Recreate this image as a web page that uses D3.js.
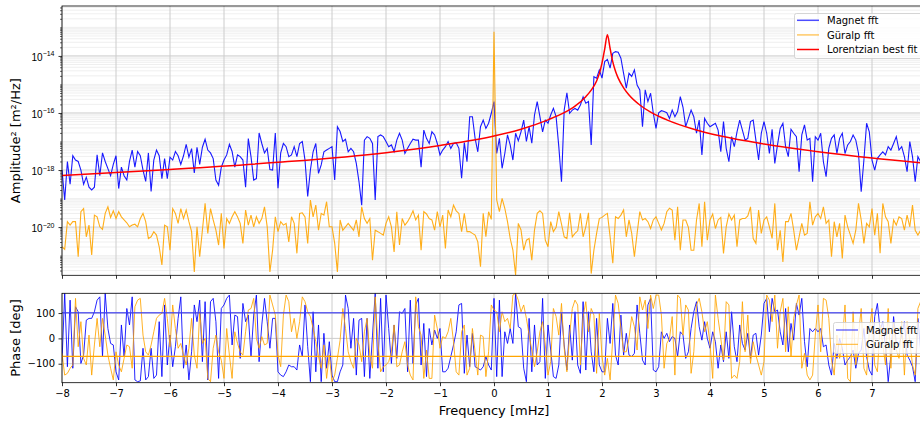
<!DOCTYPE html>
<html>
<head>
<meta charset="utf-8">
<script src="https://cdn.jsdelivr.net/npm/d3@7"></script>
<style>
body { margin: 0; background: #fff; }
svg { display: block; font-family: "DejaVu Sans", sans-serif; }
</style>
</head>
<body>
<div id="chart"></div>
<script>
// frequency bins [mHz]
var freqStart = -8;
var freqStep = 0.05;

// log10 of amplitude^2 [m^2/Hz]
var magnetAmpLog = [
-18.0,-19.05,-17.7,-18.5,-17.5,-17.65,-17.7,-18.0,-18.5,-18.25,
-18.6,-18.7,-18.6,-17.47,-18.2,-17.4,-17.7,-17.95,-18.2,-17.8,
-17.5,-18.65,-17.9,-18.2,-18.35,-17.7,-17.3,-17.9,-17.35,-17.5,
-18.0,-18.4,-17.4,-18.75,-17.65,-17.3,-17.5,-18.3,-17.6,-18.3,
-17.55,-17.65,-17.35,-17.5,-17.8,-17.5,-17.1,-17.55,-17.25,-18.1,
-17.2,-17.8,-17.2,-16.92,-17.3,-17.4,-17.6,-18.35,-18.53,-17.9,
-17.65,-17.47,-17.1,-17.35,-17.9,-17.47,-17.53,-17.65,-18.6,-16.9,
-17.53,-18.35,-18.3,-16.7,-17.07,-17.4,-17.24,-17.98,-18.0,-16.7,
-18.64,-17.4,-17.07,-17.18,-17.53,-17.47,-17.18,-17.53,-17.07,-17.0,
-17.65,-18.93,-18.0,-17.36,-17.07,-18.12,-17.82,-17.36,-17.3,-17.24,
-17.18,-18.35,-16.48,-16.65,-17.0,-16.92,-17.36,-17.24,-17.36,-17.77,
-18.41,-19.23,-16.95,-16.83,-16.89,-17.07,-19.05,-16.83,-16.77,-16.83,
-17.0,-17.18,-17.12,-17.36,-16.95,-16.71,-16.95,-17.42,-17.24,-17.07,
-16.92,-16.95,-16.95,-17.9,-16.6,-16.89,-17.07,-16.66,-16.77,-17.07,
-17.47,-17.3,-17.18,-17.0,-17.24,-17.07,-17.04,-17.24,-18.29,-17.04,
-17.71,-16.13,-16.13,-16.89,-17.36,-16.48,-16.25,-16.54,-16.36,-16.01,
-15.6,-17.42,-16.89,-17.94,-17.42,-16.77,-17.12,-17.65,-16.71,-16.97,
-16.66,-16.25,-17.0,-16.48,-17.06,-16.07,-15.6,-16.13,-16.66,-16.25,
-16.36,-16.07,-15.84,-16.13,-17.18,-18.41,-15.9,-15.29,-16.01,-15.9,
-15.84,-15.9,-15.72,-15.43,-15.66,-15.6,-17.12,-14.73,-14.78,-14.49,
-14.78,-14.2,-14.12,-14.43,-13.91,-13.85,-13.87,-14.08,-14.61,-15.13,
-14.61,-14.72,-14.49,-15.02,-15.19,-16.48,-15.19,-15.6,-15.31,-16.01,
-16.54,-15.99,-15.92,-15.95,-15.99,-16.19,-15.9,-16.13,-15.95,-15.43,
-15.8,-16.48,-16.19,-15.9,-16.13,-16.71,-16.25,-17.47,-16.19,-16.36,
-16.48,-16.42,-16.36,-16.6,-17.36,-16.3,-17.24,-17.71,-16.83,-17.18,
-16.66,-16.25,-16.6,-16.95,-16.89,-16.3,-16.25,-16.95,-17.65,-16.71,
-16.3,-16.71,-17.42,-16.57,-17.77,-17.12,-16.54,-16.36,-17.18,-17.53,
-16.57,-16.71,-16.83,-18.06,-16.77,-16.42,-16.95,-16.89,-18.41,-16.83,
-16.95,-16.71,-17.71,-18.23,-17.24,-16.89,-16.77,-17.42,-16.89,-16.71,
-17.42,-17.12,-17.0,-16.77,-16.95,-17.42,-18.76,-17.65,-16.36,-16.66,
-17.65,-18.0,-17.59,-17.47,-17.36,-17.47,-17.18,-17.3,-17.07,-16.83,
-17.3,-17.18,-17.53,-18.06,-17.0,-17.53,-18.41,-17.53,-17.71,-17.6
];

var guralpAmpLog = [
-20.69,-20.78,-19.81,-19.93,-19.81,-19.81,-21.04,-19.46,-19.35,-20.34,
-19.93,-20.98,-19.58,-19.64,-19.99,-20.08,-19.52,-19.29,-19.66,-19.43,
-19.7,-19.46,-19.64,-19.75,-19.85,-19.99,-19.93,-19.9,-19.99,-19.7,
-19.52,-19.81,-20.4,-20.34,-20.16,-20.28,-20.69,-21.33,-19.93,-19.99,
-20.81,-19.35,-19.52,-19.87,-19.35,-19.7,-19.4,-19.81,-20.16,-21.57,
-19.99,-21.04,-20.11,-19.17,-20.22,-19.35,-19.75,-20.11,-20.63,-19.52,
-20.75,-19.7,-19.87,-19.64,-19.46,-19.64,-19.87,-20.57,-19.4,-19.93,
-19.58,-19.99,-19.64,-19.87,-19.7,-19.29,-19.99,-21.57,-20.81,-19.64,
-20.16,-19.81,-19.93,-19.87,-20.52,-19.64,-19.87,-20.92,-19.52,-19.5,
-19.64,-20.57,-19.05,-19.64,-19.23,-20.11,-19.52,-19.58,-19.11,-19.99,
-19.99,-20.57,-21.57,-19.75,-20.11,-19.99,-19.87,-19.99,-20.11,-19.75,
-20.34,-19.29,-19.7,-19.87,-19.7,-21.16,-20.11,-20.16,-20.22,-20.28,
-19.87,-19.64,-19.99,-20.87,-19.46,-20.63,-19.7,-19.93,-19.81,-19.64,
-19.43,-19.75,-19.58,-20.81,-19.46,-19.54,-19.7,-19.75,-20.11,-19.46,
-19.99,-19.58,-20.75,-19.4,-19.64,-19.23,-19.43,-19.52,-20.16,-19.52,
-20.16,-20.16,-20.22,-20.28,-20.52,-21.39,-19.52,-20.34,-19.46,-19.73,
-13.15,-19.05,-19.46,-18.99,-19.34,-19.81,-20.4,-20.81,-21.68,-19.87,
-20.1,-20.81,-20.46,-20.4,-21.16,-20.1,-19.52,-19.43,-19.52,-20.46,
-20.69,-19.81,-20.16,-20.01,-19.46,-19.9,-20.34,-20.4,-19.5,-20.34,
-20.22,-20.13,-19.52,-20.34,-19.99,-19.5,-21.63,-20.81,-20.22,-19.7,
-19.66,-19.58,-19.52,-20.34,-21.27,-19.64,-19.7,-19.58,-19.4,-20.34,
-19.75,-20.22,-21.04,-20.22,-19.46,-19.75,-19.7,-19.81,-20.05,-19.75,
-19.64,-19.87,-20.1,-19.87,-19.46,-19.34,-19.4,-20.46,-19.29,-20.81,
-19.75,-19.75,-20.01,-20.81,-20.81,-19.75,-19.17,-20.69,-19.11,-20.46,
-19.75,-19.54,-20.05,-19.75,-19.66,-20.92,-19.99,-19.54,-19.75,-19.58,
-20.69,-19.75,-19.7,-19.7,-19.61,-19.29,-20.4,-20.57,-19.4,-20.22,
-19.75,-19.64,-19.99,-20.4,-19.17,-20.81,-20.11,-21.22,-19.81,-19.81,
-19.52,-20.11,-20.81,-20.34,-19.87,-20.28,-20.22,-19.11,-19.93,-19.64,
-19.52,-19.7,-19.29,-19.87,-19.75,-21.04,-19.81,-20.34,-19.87,-21.1,
-19.58,-19.99,-20.28,-20.57,-20.11,-19.17,-19.75,-20.57,-19.87,-19.99,
-19.35,-20.28,-19.52,-20.92,-19.17,-19.64,-19.81,-20.57,-19.75,-19.93,
-19.64,-19.7,-20.11,-19.58,-19.99,-19.23,-20.11,-20.28,-20.11,-19.9
];

// Lorentzian best fit
var fitFreq = [-8,-6,-4,-2,-1,0,0.5,1,1.3,1.5,1.7,1.8,1.9,1.95,2.0,2.05,2.1,2.15,2.2,2.25,2.3,2.4,2.5,2.7,2.9,3.2,3.7,4.2,5,6,7,8];
var fitAmpLog = [-18.19,-17.98,-17.73,-17.39,-17.14,-16.81,-16.57,-16.24,-15.99,-15.76,-15.43,-15.2,-14.88,-14.62,-14.25,-13.76,-13.26,-13.74,-14.21,-14.54,-14.78,-15.12,-15.37,-15.72,-15.97,-16.24,-16.57,-16.81,-17.09,-17.36,-17.58,-17.76];

// phase [deg]
var magnetPhase = [
-92,178,-112,151,-118,125,105,-99,-66,72,
79,79,105,151,164,-72,178,39,-20,-26,
-132,-164,53,-72,118,53,164,-164,-171,-168,
-39,-164,-151,-39,-158,-145,66,-151,132,-105,
13,-112,-33,79,164,-118,-26,-164,-53,132,
66,151,-92,145,-164,145,158,66,-158,118,
132,158,171,-26,92,86,-79,138,66,92,
-72,92,171,-92,53,158,66,-39,79,79,
-132,-145,-151,-132,-105,-112,-112,-125,-26,-72,
132,-33,-171,105,-132,53,-171,20,-118,-13,
-145,-171,-171,-132,-105,171,118,-39,79,-145,
72,79,-151,79,-158,13,178,-118,158,-132,
171,39,-99,53,-79,105,99,118,-132,151,
-99,132,158,-105,59,-151,39,-26,33,0,
39,-132,-132,-118,-72,-26,26,132,138,-138,
13,-112,20,-112,-118,-125,-112,-72,-105,-125,
158,-151,151,-151,26,-20,39,-20,178,46,
39,-118,-171,79,-132,53,-105,-92,158,-158,
53,-46,-151,-158,-105,99,-26,-125,53,-86,
105,-105,-138,145,-125,105,-53,-132,79,-105,
-132,-132,79,-20,138,-66,-105,92,-66,20,
-66,-72,-59,132,20,-86,-105,132,158,-125,
-132,-112,26,0,20,-13,7,0,-72,26,
13,-79,-53,39,105,145,46,-7,66,0,
-39,26,-13,-118,-26,-92,26,-79,105,-33,
-92,53,-20,-46,20,-79,13,20,-66,13,
138,158,26,158,105,112,26,-26,118,-53,
59,-7,138,92,158,-13,-112,39,26,39,
26,39,-33,-26,-105,-145,-20,-79,0,-39,
-105,-86,-72,-46,-118,-59,-46,39,-72,-125,
-145,86,138,33,66,-33,-171,-66,86,-20,
-26,13,66,-66,-86,-112,-171,79,-46,105
];

var guralpPhase = [
-59,-145,-138,-118,-105,158,-33,66,-79,-105,
13,-145,-26,79,-33,79,13,-66,-118,-164,
-53,-105,-132,-79,-26,-33,-118,125,151,158,
13,-53,-66,-26,26,79,92,99,158,79,
-33,132,39,-39,-20,-66,-105,-39,79,-66,
-118,105,-20,0,-158,-171,-39,13,-53,-86,
-158,39,-66,-158,26,-20,-53,-66,26,112,
118,158,0,-39,7,-26,-20,171,132,92,
-66,-112,92,171,145,26,79,0,66,164,
145,105,86,39,-13,-72,-118,-26,-158,-66,
-171,-145,-79,-7,118,39,-53,-92,-118,0,
-26,-92,26,79,-66,-118,164,-13,-132,-112,
-105,-92,-53,53,-112,-105,-53,-13,-105,-145,
-164,164,46,13,-158,-46,-158,-158,92,39,
-39,7,0,26,79,-13,-132,-145,26,53,
-145,-118,39,-53,-145,13,7,-151,-53,132,
112,105,26,105,66,79,39,171,178,151,
105,132,79,13,-46,-112,-53,26,66,-26,
-145,-92,118,86,13,138,-39,-132,13,118,
151,132,-105,86,145,26,118,92,-138,99,
-72,-145,-79,-164,0,171,138,39,-53,-53,
0,86,46,-46,164,112,151,39,171,118,
171,171,92,-118,-20,0,86,-145,171,158,
13,132,112,-138,-53,132,158,105,26,66,
-20,-158,171,79,0,-86,145,132,-158,-145,
-158,-92,145,-53,92,-99,-13,-66,-105,-145,
-92,171,151,66,171,-39,105,158,-53,125,
-72,79,132,171,-118,-59,-145,-164,-145,13,
132,-53,158,151,79,-86,-145,13,-79,-13,
132,-158,-171,105,-105,13,118,-118,-145,26,
118,-105,-132,53,-26,-105,118,-118,59,-46,
-79,66,-145,66,-13,-105,-145,118,145,-132
];

// reference phase lines [deg]
var magnetPhaseRef = 101;
var guralpPhaseRef = -71;

var freqTicks = [-8,-7,-6,-5,-4,-3,-2,-1,0,1,2,3,4,5,6,7];
var ampTickExp = [-14,-16,-18,-20];
var phaseTicks = [-100,0,100];
var topLegend = ["Magnet fft", "Güralp fft", "Lorentzian best fit"];
var bottomLegend = ["Magnet fft", "Güralp fft"];

function init(){

	var w = 920;
	var h = 421;
	var left = 62, right = 926;
	var topA = 6, botA = 275.3;     // amplitude panel
	var topP = 293.3, botP = 382.7; // phase panel

	var cBlue = "#0000ff";
	var cOrange = "#ffa500";
	var cRed = "#ff0000";
	var gridMajor = "#cccccc";
	var gridMinor = "#ebebeb";

	var svg = d3.select("#chart").append("svg")
		.attr("width", w)
		.attr("height", h);

	var xScale = d3.scaleLinear().domain([-8, 8]).range([left, right]);
	var yAmp = d3.scaleLog()
		.domain([Math.pow(10, -21.69), Math.pow(10, -12.25)])
		.range([botA, topA]);
	var yPh = d3.scaleLinear().domain([-175, 178]).range([botP, topP]);

	var freqs = magnetAmpLog.map(function(d, i){ return freqStart + freqStep * i; });

	svg.append("clipPath").attr("id", "clipA").append("rect")
		.attr("x", left).attr("y", topA).attr("width", right - left).attr("height", botA - topA);
	svg.append("clipPath").attr("id", "clipP").append("rect")
		.attr("x", left).attr("y", topP).attr("width", right - left).attr("height", botP - topP);

	// ---------------- grids ----------------
	var minorVals = [];
	for (var k = -22; k <= -12; k++) {
		for (var m = 1; m <= 9; m++) {
			var v = m * Math.pow(10, k);
			if (v < yAmp.domain()[0] || v > yAmp.domain()[1]) continue;
			if (m == 1 && ampTickExp.indexOf(k) >= 0) continue;
			minorVals.push(v);
		}
	}
	var majorVals = ampTickExp.map(function(e){ return Math.pow(10, e); });

	var gA = svg.append("g");
	gA.selectAll("line.minor").data(minorVals).enter().append("line")
		.attr("x1", left).attr("x2", right)
		.attr("y1", function(d){ return yAmp(d); })
		.attr("y2", function(d){ return yAmp(d); })
		.attr("stroke", gridMinor).attr("stroke-width", 0.8);
	gA.selectAll("line.major").data(majorVals).enter().append("line")
		.attr("x1", left).attr("x2", right)
		.attr("y1", function(d){ return yAmp(d); })
		.attr("y2", function(d){ return yAmp(d); })
		.attr("stroke", gridMajor).attr("stroke-width", 1);
	gA.selectAll("line.vert").data(freqTicks).enter().append("line")
		.attr("x1", function(d){ return xScale(d); })
		.attr("x2", function(d){ return xScale(d); })
		.attr("y1", topA).attr("y2", botA)
		.attr("stroke", gridMajor).attr("stroke-width", 1);

	var gP = svg.append("g");
	gP.selectAll("line.h").data(phaseTicks).enter().append("line")
		.attr("x1", left).attr("x2", right)
		.attr("y1", function(d){ return yPh(d); })
		.attr("y2", function(d){ return yPh(d); })
		.attr("stroke", gridMajor).attr("stroke-width", 1);
	gP.selectAll("line.v").data(freqTicks).enter().append("line")
		.attr("x1", function(d){ return xScale(d); })
		.attr("x2", function(d){ return xScale(d); })
		.attr("y1", topP).attr("y2", botP)
		.attr("stroke", gridMajor).attr("stroke-width", 1);

	// ---------------- amplitude lines ----------------
	var ampLine = d3.line()
		.x(function(d){ return xScale(d[0]); })
		.y(function(d){ return yAmp(Math.pow(10, d[1])); });

	var plotA = svg.append("g").attr("clip-path", "url(#clipA)");
	plotA.append("path")
		.datum(freqs.map(function(f, i){ return [f, magnetAmpLog[i]]; }))
		.attr("d", ampLine)
		.attr("fill", "none").attr("stroke", cBlue).attr("stroke-opacity", 0.9).attr("stroke-width", 1.1);
	plotA.append("path")
		.datum(freqs.map(function(f, i){ return [f, guralpAmpLog[i]]; }))
		.attr("d", ampLine)
		.attr("fill", "none").attr("stroke", cOrange).attr("stroke-opacity", 0.9).attr("stroke-width", 1.1);
	plotA.append("path")
		.datum(fitFreq.map(function(f, i){ return [f, fitAmpLog[i]]; }))
		.attr("d", ampLine.curve(d3.curveMonotoneX))
		.attr("fill", "none").attr("stroke", cRed).attr("stroke-width", 1.5);

	// ---------------- phase lines ----------------
	var phLine = d3.line()
		.x(function(d){ return xScale(d[0]); })
		.y(function(d){ return yPh(d[1]); });

	var plotP = svg.append("g").attr("clip-path", "url(#clipP)");
	plotP.append("path")
		.datum(freqs.map(function(f, i){ return [f, magnetPhase[i]]; }))
		.attr("d", phLine)
		.attr("fill", "none").attr("stroke", cBlue).attr("stroke-opacity", 0.85).attr("stroke-width", 1);
	plotP.append("path")
		.datum(freqs.map(function(f, i){ return [f, guralpPhase[i]]; }))
		.attr("d", phLine)
		.attr("fill", "none").attr("stroke", cOrange).attr("stroke-opacity", 0.85).attr("stroke-width", 1);
	plotP.append("line")
		.attr("x1", left).attr("x2", right)
		.attr("y1", yPh(magnetPhaseRef)).attr("y2", yPh(magnetPhaseRef))
		.attr("stroke", "#4040f0").attr("stroke-opacity", 0.8).attr("stroke-width", 1.6);
	plotP.append("line")
		.attr("x1", left).attr("x2", right)
		.attr("y1", yPh(guralpPhaseRef)).attr("y2", yPh(guralpPhaseRef))
		.attr("stroke", cOrange).attr("stroke-width", 1.1);

	// ---------------- axes ----------------
	function styleAxis(g){
		g.select(".domain").remove();
		g.selectAll(".tick line").attr("stroke", "#000").attr("stroke-width", 0.8);
		g.selectAll(".tick text").attr("font-family", "DejaVu Sans").attr("font-size", "10px").attr("fill", "#000");
	}

	svg.append("g")
		.attr("transform", "translate(0," + botA + ")")
		.call(d3.axisBottom(xScale).tickValues(freqTicks).tickSize(3.5).tickFormat(""))
		.call(styleAxis);

	svg.append("g")
		.attr("transform", "translate(0," + botP + ")")
		.call(d3.axisBottom(xScale).tickValues(freqTicks).tickSize(3.5).tickPadding(3.5).tickFormat(d3.format("d")))
		.call(styleAxis);

	svg.append("g")
		.attr("transform", "translate(" + left + ",0)")
		.call(d3.axisLeft(yAmp).tickValues(minorVals).tickSize(2).tickFormat(""))
		.call(styleAxis)
		.selectAll(".tick line").attr("stroke-width", 0.6);

	var gy = svg.append("g")
		.attr("transform", "translate(" + left + ",0)")
		.call(d3.axisLeft(yAmp).tickValues(majorVals).tickSize(3.5).tickFormat(""))
		.call(styleAxis);
	gy.selectAll(".tick").each(function(d, i){
		var t = d3.select(this).append("text")
			.attr("x", -7.5).attr("y", 4.5)
			.attr("text-anchor", "end")
			.attr("font-size", "10px").attr("fill", "#000");
		t.append("tspan").text("10");
		t.append("tspan").attr("dy", -4.5).attr("font-size", "7px")
			.text("\u2212" + Math.abs(ampTickExp[i]));
	});

	svg.append("g")
		.attr("transform", "translate(" + left + ",0)")
		.call(d3.axisLeft(yPh).tickValues(phaseTicks).tickSize(3.5).tickPadding(3.5).tickFormat(d3.format("d")))
		.call(styleAxis);

	// spines
	svg.append("rect")
		.attr("x", left).attr("y", topA).attr("width", right - left).attr("height", botA - topA)
		.attr("fill", "none").attr("stroke", "#000").attr("stroke-width", 0.8);
	svg.append("rect")
		.attr("x", left).attr("y", topP).attr("width", right - left).attr("height", botP - topP)
		.attr("fill", "none").attr("stroke", "#000").attr("stroke-width", 0.8);

	// axis labels
	svg.append("text")
		.attr("transform", "translate(20," + ((topA + botA) / 2) + ") rotate(-90)")
		.attr("text-anchor", "middle").attr("font-size", "13px").attr("fill", "#000")
		.text("Amplitude\u00b2 [m\u00b2/Hz]");
	svg.append("text")
		.attr("transform", "translate(20," + ((topP + botP) / 2) + ") rotate(-90)")
		.attr("text-anchor", "middle").attr("font-size", "13px").attr("fill", "#000")
		.text("Phase [deg]");
	svg.append("text")
		.attr("x", (left + right) / 2).attr("y", 414.5)
		.attr("text-anchor", "middle").attr("font-size", "13px").attr("fill", "#000")
		.text("Frequency [mHz]");

	// ---------------- legends ----------------
	var legTop = svg.append("g");
	legTop.append("rect")
		.attr("x", 794.5).attr("y", 13.5).attr("width", 140).attr("height", 45).attr("rx", 2)
		.attr("fill", "#fff").attr("fill-opacity", 0.8).attr("stroke", "#cccccc").attr("stroke-width", 0.8);
	var topColors = [cBlue, cOrange, cRed];
	var topOpac = [0.7, 0.6, 1];
	legTop.selectAll("line").data(topLegend).enter().append("line")
		.attr("x1", 797).attr("x2", 819)
		.attr("y1", function(d, i){ return 20.3 + i * 14.6; })
		.attr("y2", function(d, i){ return 20.3 + i * 14.6; })
		.attr("stroke", function(d, i){ return topColors[i]; })
		.attr("stroke-opacity", function(d, i){ return topOpac[i]; })
		.attr("stroke-width", 1.5);
	legTop.selectAll("text").data(topLegend).enter().append("text")
		.attr("x", 827).attr("y", function(d, i){ return 24 + i * 14.6; })
		.attr("font-size", "10px").attr("fill", "#000")
		.text(function(d){ return d; });

	var legBot = svg.append("g");
	legBot.append("rect")
		.attr("x", 833.5).attr("y", 322.5).attr("width", 100).attr("height", 31).attr("rx", 2)
		.attr("fill", "#fff").attr("fill-opacity", 0.8).attr("stroke", "#cccccc").attr("stroke-width", 0.8);
	var botColors = [cBlue, cOrange];
	legBot.selectAll("line").data(bottomLegend).enter().append("line")
		.attr("x1", 836).attr("x2", 858)
		.attr("y1", function(d, i){ return 330 + i * 14.3; })
		.attr("y2", function(d, i){ return 330 + i * 14.3; })
		.attr("stroke", function(d, i){ return botColors[i]; })
		.attr("stroke-opacity", 0.85)
		.attr("stroke-width", 1);
	legBot.selectAll("text").data(bottomLegend).enter().append("text")
		.attr("x", 866).attr("y", function(d, i){ return 333.7 + i * 14.3; })
		.attr("font-size", "10px").attr("fill", "#000")
		.text(function(d){ return d; });
}
window.onload = init;
</script>
</body>
</html>
